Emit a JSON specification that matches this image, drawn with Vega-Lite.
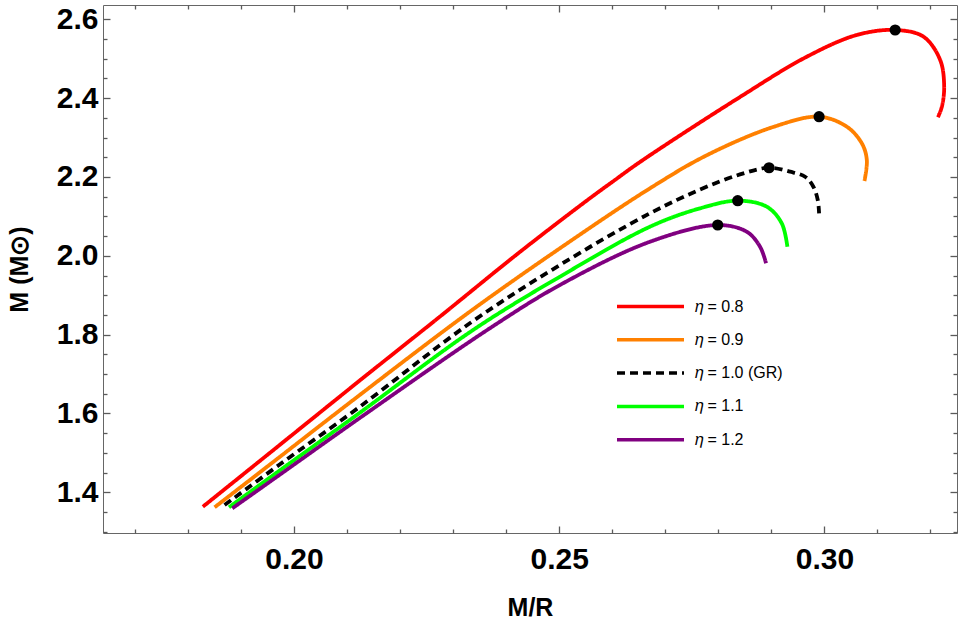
{
  "$schema": "https://vega.github.io/schema/vega-lite/v6.json",
  "width": 854,
  "height": 528,
  "autosize": {"type": "none"},
  "padding": {"left": 103, "top": 5, "right": 3, "bottom": 93},
  "datasets": {
    "curves": [
      {"eta": "𝜂 = 0.8", "i": 1, "mr": 0.18283, "m": 1.3635},
      {"eta": "𝜂 = 0.8", "i": 2, "mr": 0.1973, "m": 1.52},
      {"eta": "𝜂 = 0.8", "i": 3, "mr": 0.2124, "m": 1.6836},
      {"eta": "𝜂 = 0.8", "i": 4, "mr": 0.22749, "m": 1.8455},
      {"eta": "𝜂 = 0.8", "i": 5, "mr": 0.24258, "m": 2.0096},
      {"eta": "𝜂 = 0.8", "i": 6, "mr": 0.25579, "m": 2.146},
      {"eta": "𝜂 = 0.8", "i": 7, "mr": 0.26051, "m": 2.1923},
      {"eta": "𝜂 = 0.8", "i": 8, "mr": 0.26523, "m": 2.238},
      {"eta": "𝜂 = 0.8", "i": 9, "mr": 0.28409, "m": 2.4029},
      {"eta": "𝜂 = 0.8", "i": 10, "mr": 0.29668, "m": 2.5051},
      {"eta": "𝜂 = 0.8", "i": 11, "mr": 0.30611, "m": 2.5602},
      {"eta": "𝜂 = 0.8", "i": 12, "mr": 0.31334, "m": 2.5729},
      {"eta": "𝜂 = 0.8", "i": 13, "mr": 0.31868, "m": 2.5559},
      {"eta": "𝜂 = 0.8", "i": 14, "mr": 0.32183, "m": 2.4967},
      {"eta": "𝜂 = 0.8", "i": 15, "mr": 0.32258, "m": 2.429},
      {"eta": "𝜂 = 0.8", "i": 16, "mr": 0.32215, "m": 2.3783},
      {"eta": "𝜂 = 0.8", "i": 17, "mr": 0.3214, "m": 2.3514},

      {"eta": "𝜂 = 0.9", "i": 1, "mr": 0.18504, "m": 1.362},
      {"eta": "𝜂 = 0.9", "i": 2, "mr": 0.1973, "m": 1.4896},
      {"eta": "𝜂 = 0.9", "i": 3, "mr": 0.2124, "m": 1.6469},
      {"eta": "𝜂 = 0.9", "i": 4, "mr": 0.23315, "m": 1.8582},
      {"eta": "𝜂 = 0.9", "i": 5, "mr": 0.25013, "m": 2.019},
      {"eta": "𝜂 = 0.9", "i": 6, "mr": 0.26711, "m": 2.1712},
      {"eta": "𝜂 = 0.9", "i": 7, "mr": 0.27781, "m": 2.255},
      {"eta": "𝜂 = 0.9", "i": 8, "mr": 0.29038, "m": 2.327},
      {"eta": "𝜂 = 0.9", "i": 9, "mr": 0.299, "m": 2.3529},
      {"eta": "𝜂 = 0.9", "i": 10, "mr": 0.30423, "m": 2.3275},
      {"eta": "𝜂 = 0.9", "i": 11, "mr": 0.30706, "m": 2.2854},
      {"eta": "𝜂 = 0.9", "i": 12, "mr": 0.308, "m": 2.243},
      {"eta": "𝜂 = 0.9", "i": 13, "mr": 0.30755, "m": 2.1898},

      {"eta": "𝜂 = 1.0 (GR)", "i": 1, "mr": 0.18692, "m": 1.3678},
      {"eta": "𝜂 = 1.0 (GR)", "i": 2, "mr": 0.1973, "m": 1.4705},
      {"eta": "𝜂 = 1.0 (GR)", "i": 3, "mr": 0.2124, "m": 1.617},
      {"eta": "𝜂 = 1.0 (GR)", "i": 4, "mr": 0.23315, "m": 1.8288},
      {"eta": "𝜂 = 1.0 (GR)", "i": 5, "mr": 0.25013, "m": 1.9767},
      {"eta": "𝜂 = 1.0 (GR)", "i": 6, "mr": 0.26711, "m": 2.1078},
      {"eta": "𝜂 = 1.0 (GR)", "i": 7, "mr": 0.27655, "m": 2.168},
      {"eta": "𝜂 = 1.0 (GR)", "i": 8, "mr": 0.28409, "m": 2.2065},
      {"eta": "𝜂 = 1.0 (GR)", "i": 9, "mr": 0.28957, "m": 2.2235},
      {"eta": "𝜂 = 1.0 (GR)", "i": 10, "mr": 0.29353, "m": 2.2134},
      {"eta": "𝜂 = 1.0 (GR)", "i": 11, "mr": 0.29636, "m": 2.2007},
      {"eta": "𝜂 = 1.0 (GR)", "i": 12, "mr": 0.29792, "m": 2.1753},
      {"eta": "𝜂 = 1.0 (GR)", "i": 13, "mr": 0.29875, "m": 2.1416},
      {"eta": "𝜂 = 1.0 (GR)", "i": 14, "mr": 0.299, "m": 2.1078},

      {"eta": "𝜂 = 1.1", "i": 1, "mr": 0.18774, "m": 1.362},
      {"eta": "𝜂 = 1.1", "i": 2, "mr": 0.1973, "m": 1.4553},
      {"eta": "𝜂 = 1.1", "i": 3, "mr": 0.2124, "m": 1.6017},
      {"eta": "𝜂 = 1.1", "i": 4, "mr": 0.23377, "m": 1.8118},
      {"eta": "𝜂 = 1.1", "i": 5, "mr": 0.25013, "m": 1.947},
      {"eta": "𝜂 = 1.1", "i": 6, "mr": 0.26711, "m": 2.0738},
      {"eta": "𝜂 = 1.1", "i": 7, "mr": 0.27655, "m": 2.1205},
      {"eta": "𝜂 = 1.1", "i": 8, "mr": 0.28366, "m": 2.1398},
      {"eta": "𝜂 = 1.1", "i": 9, "mr": 0.28913, "m": 2.1246},
      {"eta": "𝜂 = 1.1", "i": 10, "mr": 0.29196, "m": 2.0825},
      {"eta": "𝜂 = 1.1", "i": 11, "mr": 0.29302, "m": 2.0231},

      {"eta": "𝜂 = 1.2", "i": 1, "mr": 0.18838, "m": 1.3594},
      {"eta": "𝜂 = 1.2", "i": 2, "mr": 0.1973, "m": 1.4444},
      {"eta": "𝜂 = 1.2", "i": 3, "mr": 0.2124, "m": 1.5885},
      {"eta": "𝜂 = 1.2", "i": 4, "mr": 0.23692, "m": 1.8161},
      {"eta": "𝜂 = 1.2", "i": 5, "mr": 0.25013, "m": 1.9259},
      {"eta": "𝜂 = 1.2", "i": 6, "mr": 0.26711, "m": 2.0357},
      {"eta": "𝜂 = 1.2", "i": 7, "mr": 0.27989, "m": 2.0781},
      {"eta": "𝜂 = 1.2", "i": 8, "mr": 0.28536, "m": 2.0611},
      {"eta": "𝜂 = 1.2", "i": 9, "mr": 0.28787, "m": 2.0231},
      {"eta": "𝜂 = 1.2", "i": 10, "mr": 0.289, "m": 1.981}
    ],
    "peaks": [
      {"eta": "𝜂 = 0.8", "mr": 0.31334, "m": 2.5729},
      {"eta": "𝜂 = 0.9", "mr": 0.299, "m": 2.3529},
      {"eta": "𝜂 = 1.0 (GR)", "mr": 0.28957, "m": 2.2235},
      {"eta": "𝜂 = 1.1", "mr": 0.28366, "m": 2.1398},
      {"eta": "𝜂 = 1.2", "mr": 0.27989, "m": 2.0781}
    ]
  },
  "layer": [
    {
      "data": {"name": "curves"},
      "mark": {"type": "line", "strokeWidth": 3.8, "strokeCap": "butt", "interpolate": "catmull-rom"},
      "encoding": {
        "x": {
          "field": "mr", "type": "quantitative",
          "scale": {"domain": [0.164, 0.325], "nice": false, "zero": false},
          "axis": {"orient": "bottom", "values": [0.2, 0.25, 0.3], "format": ".2f", "title": "M/R", "offset": -7, "tickSize": 7, "labelPadding": 11, "titlePadding": 21}
        },
        "y": {
          "field": "m", "type": "quantitative",
          "scale": {"domain": [1.2968, 2.6363], "nice": false, "zero": false},
          "axis": {"orient": "left", "values": [1.4, 1.6, 1.8, 2.0, 2.2, 2.4, 2.6], "format": ".1f", "title": "M (M⊙)", "offset": -7, "tickSize": 7, "labelPadding": 5, "titlePadding": 24}
        },
        "order": {"field": "i", "type": "quantitative"},
        "color": {
          "field": "eta", "type": "nominal", "title": null,
          "scale": {
            "domain": ["𝜂 = 0.8", "𝜂 = 0.9", "𝜂 = 1.0 (GR)", "𝜂 = 1.1", "𝜂 = 1.2"],
            "range": ["#ff0000", "#ff8000", "#000000", "#00ff00", "#800080"]
          }
        },
        "strokeDash": {
          "field": "eta", "type": "nominal", "title": null,
          "scale": {
            "domain": ["𝜂 = 0.8", "𝜂 = 0.9", "𝜂 = 1.0 (GR)", "𝜂 = 1.1", "𝜂 = 1.2"],
            "range": [[1, 0], [1, 0], [8, 5], [1, 0], [1, 0]]
          }
        }
      }
    },
    {
      "data": {"name": "peaks"},
      "mark": {"type": "circle", "size": 125, "color": "black", "opacity": 1},
      "encoding": {
        "x": {
          "field": "mr", "type": "quantitative",
          "axis": {"orient": "bottom", "values": [0.17, 0.18, 0.19, 0.21, 0.22, 0.23, 0.24, 0.26, 0.27, 0.28, 0.29, 0.31, 0.32], "labels": false, "title": null, "offset": -4, "tickSize": 4}
        },
        "y": {
          "field": "m", "type": "quantitative",
          "axis": {"orient": "left", "values": [1.3, 1.35, 1.45, 1.5, 1.55, 1.65, 1.7, 1.75, 1.85, 1.9, 1.95, 2.05, 2.1, 2.15, 2.25, 2.3, 2.35, 2.45, 2.5, 2.55], "labels": false, "title": null, "offset": -4, "tickSize": 4}
        }
      }
    },
    {
      "data": {"name": "peaks"},
      "mark": {"type": "point", "opacity": 0},
      "encoding": {
        "x": {
          "field": "mr", "type": "quantitative",
          "axis": {"orient": "top", "values": [0.2, 0.25, 0.3], "labels": false, "title": null, "offset": -7, "tickSize": 7}
        },
        "y": {
          "field": "m", "type": "quantitative",
          "axis": {"orient": "right", "values": [1.4, 1.6, 1.8, 2.0, 2.2, 2.4, 2.6], "labels": false, "title": null, "offset": -7, "tickSize": 7}
        }
      }
    },
    {
      "data": {"name": "peaks"},
      "mark": {"type": "point", "opacity": 0},
      "encoding": {
        "x": {
          "field": "mr", "type": "quantitative",
          "axis": {"orient": "top", "values": [0.17, 0.18, 0.19, 0.21, 0.22, 0.23, 0.24, 0.26, 0.27, 0.28, 0.29, 0.31, 0.32], "labels": false, "title": null, "offset": -4, "tickSize": 4}
        },
        "y": {
          "field": "m", "type": "quantitative",
          "axis": {"orient": "right", "values": [1.3, 1.35, 1.45, 1.5, 1.55, 1.65, 1.7, 1.75, 1.85, 1.9, 1.95, 2.05, 2.1, 2.15, 2.25, 2.3, 2.35, 2.45, 2.5, 2.55], "labels": false, "title": null, "offset": -4, "tickSize": 4}
        }
      }
    }
  ],
  "resolve": {"axis": {"x": "independent", "y": "independent"}},
  "config": {
    "view": {"stroke": "#666666", "strokeWidth": 1},
    "axis": {
      "grid": false,
      "domain": false,
      "ticks": true,
      "tickColor": "#5a5a5a",
      "tickWidth": 1.3,
      "labelFlush": false,
      "labelOverlap": false,
      "labelFont": "Liberation Sans",
      "labelFontWeight": "bold",
      "labelFontSize": 30,
      "labelColor": "#000000",
      "titleFont": "Liberation Sans",
      "titleFontWeight": "bold",
      "titleFontSize": 25,
      "titleColor": "#000000"
    },
    "legend": {
      "orient": "none",
      "legendX": 539.5,
      "legendY": 293.5,
      "padding": 0,
      "symbolType": "M-6.7,0H6.7",
      "symbolSize": 100,
      "symbolStrokeWidth": 3.5,
      "labelFont": "Liberation Sans",
      "labelFontSize": 16,
      "labelColor": "#000000",
      "labelOffset": 36.5,
      "rowPadding": 17.3
    }
  }
}
